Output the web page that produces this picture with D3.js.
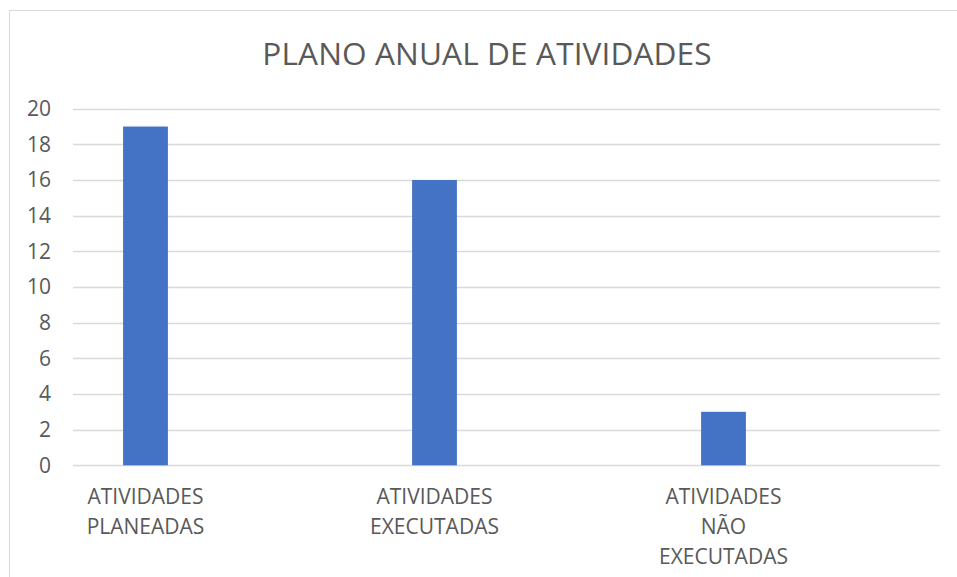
<!DOCTYPE html>
<html lang="pt">
<head>
<meta charset="utf-8">
<title>Plano anual de atividades</title>
<script src="https://cdn.jsdelivr.net/npm/d3@7"></script>
<style>
  * { margin: 0; padding: 0; }
  body { background: #fff; }
  svg { display: block; font-family: "Open Sans", sans-serif; }
</style>
</head>
<body>
<div id="chart"></div>
<script>
  // data
  const categories = ["ATIVIDADES PLANEADAS", "ATIVIDADES EXECUTADAS", "ATIVIDADES NÃO EXECUTADAS"];
  const values = [19, 16, 3];
  const yTicks = [0, 2, 4, 6, 8, 10, 12, 14, 16, 18, 20];
  const title = "PLANO ANUAL DE ATIVIDADES";

  const W = 957, H = 577;
  const textColor = "#595959";
  const gridColor = "#d9d9d9";

  const svg = d3.select("#chart").append("svg")
      .attr("width", W)
      .attr("height", H);

  // chart border (right / bottom fall outside the picture)
  svg.append("rect")
      .attr("x", 9.5).attr("y", 10.5)
      .attr("width", 1000).attr("height", 1000)
      .attr("fill", "none")
      .attr("stroke", gridColor);

  svg.append("text")
      .attr("x", 487)
      .attr("y", 65)
      .attr("text-anchor", "middle")
      .style("font-size", "31.6px")
      .style("letter-spacing", "0.1px")
      .style("fill", textColor)
      .text(title);

  const gridLeft = 73, gridRight = 940;

  const y = d3.scaleLinear()
      .domain([0, 20])
      .range([465.3, 108.7]);

  const x = d3.scaleBand()
      .domain(categories)
      .range([1, 868])
      .padding(0);

  const barW = x.bandwidth() * 0.155;

  // gridlines
  svg.append("g")
    .selectAll("line")
    .data(yTicks)
    .join("line")
      .attr("x1", gridLeft)
      .attr("x2", gridRight)
      .attr("y1", d => Math.round(y(d)) + 0.5)
      .attr("y2", d => Math.round(y(d)) + 0.5)
      .attr("stroke", gridColor)
      .attr("stroke-width", 1.3);

  // y axis labels
  const yAxis = d3.axisLeft(y).tickValues(yTicks).tickSize(0).tickPadding(0);
  const yg = svg.append("g")
      .attr("transform", "translate(51,0)")
      .call(yAxis);
  yg.select(".domain").remove();
  yg.selectAll("text")
      .style("font-family", "Open Sans, sans-serif")
      .style("font-size", "21px")
      .style("fill", textColor);

  // bars
  svg.append("g")
    .selectAll("rect")
    .data(values)
    .join("rect")
      .attr("x", (d, i) => x(categories[i]) + x.bandwidth() / 2 - barW / 2)
      .attr("y", d => y(d))
      .attr("width", barW)
      .attr("height", d => y(0) - y(d))
      .attr("fill", "#4472C4");

  // category labels, wrapped
  const labels = svg.append("g")
    .selectAll("text")
    .data(categories)
    .join("text")
      .attr("text-anchor", "middle")
      .style("font-size", "21px")
      .style("fill", textColor);

  labels.each(function(d) {
    const t = d3.select(this);
    const cx = x(d) + x.bandwidth() / 2;
    const words = d.split(" ");
    let lines = [], cur = [];
    words.forEach(w => {
      cur.push(w);
      const probe = t.append("tspan").text(cur.join(" "));
      if (probe.node().getComputedTextLength() > 140 && cur.length > 1) {
        cur.pop();
        lines.push(cur.join(" "));
        cur = [w];
      }
      probe.remove();
    });
    lines.push(cur.join(" "));
    lines.forEach((ln, i) => {
      t.append("tspan")
        .attr("x", cx)
        .attr("y", 504 + i * 30)
        .text(ln);
    });
  });
</script>
</body>
</html>
